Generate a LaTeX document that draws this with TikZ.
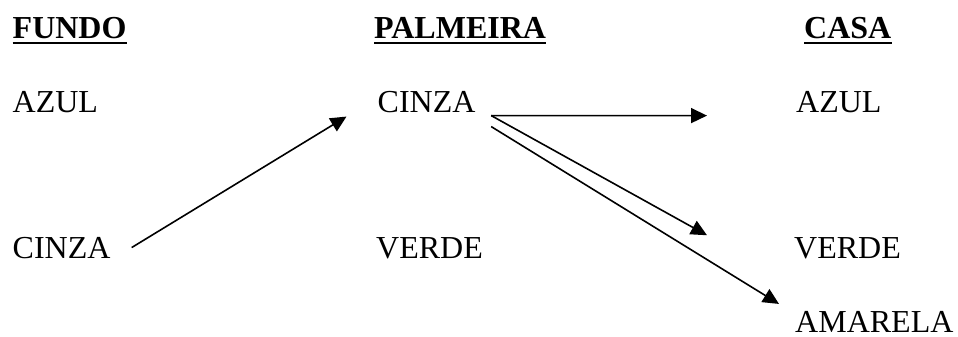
\documentclass[tikz,border=0pt]{standalone}
\usepackage{fontspec}
\setmainfont{Liberation Serif}
\usetikzlibrary{arrows.meta}
\begin{document}
\begin{tikzpicture}[x=1pt,y=1pt,
  lbl/.style={anchor=base west,inner sep=0pt,font=\fontsize{32}{38}\selectfont},
  hdr/.style={lbl,font=\fontsize{32}{38}\selectfont\bfseries},
  uline/.style={line width=2.7pt},
  arr/.style={line width=1.6pt,-{Triangle[length=16pt,width=15pt]}}]
\useasboundingbox (0,0) rectangle (958,-337);
% headings
\node[hdr] (fundo) at (12.5,-38.5) {FUNDO\ };
\node[hdr] (palmeira) at (374,-38.5) {PALMEIRA};
\node[hdr] (casa) at (804,-38.5) {CASA};
\draw[uline] ([yshift=-4.5pt]fundo.base west) -- ([yshift=-4.5pt]fundo.base east);
\draw[uline] ([yshift=-4.5pt]palmeira.base west) -- ([yshift=-4.5pt]palmeira.base east);
\draw[uline] ([yshift=-4.5pt]casa.base west) -- ([yshift=-4.5pt]casa.base east);
% entries
\node[lbl] (f1) at (12.5,-112) {AZUL};
\node[lbl] (f2) at (12.5,-258) {CINZA};
\node[lbl] (p1) at (377.5,-112) {CINZA};
\node[lbl] (p2) at (376,-258) {VERDE};
\node[lbl] (c1) at (796,-112) {AZUL};
\node[lbl] (c2) at (794,-258) {VERDE};
\node[lbl] (c3) at (795,-332) {AMARELA};
% anchor points of the connectors
\coordinate (a1s) at ([xshift=21pt]f2.east);
\coordinate (a1e) at ([xshift=-31pt,yshift=-15pt]p1.west);
\coordinate (ps1) at ([xshift=15.5pt,yshift=-14pt]p1.east);
\coordinate (ps2) at ([xshift=15.5pt,yshift=-25pt]p1.east);
\coordinate (c1e) at ([xshift=-89pt,yshift=-14pt]c1.west);
\coordinate (c2e) at ([xshift=-87pt,yshift=12.5pt]c2.west);
\coordinate (c3e) at ([xshift=-16pt,yshift=17.5pt]c3.west);
\draw[arr] (a1s) -- (a1e);
\draw[arr] (ps1) -- (c1e);
\draw[arr] (ps1) -- (c2e);
\draw[arr] (ps2) -- (c3e);
\end{tikzpicture}
\end{document}
